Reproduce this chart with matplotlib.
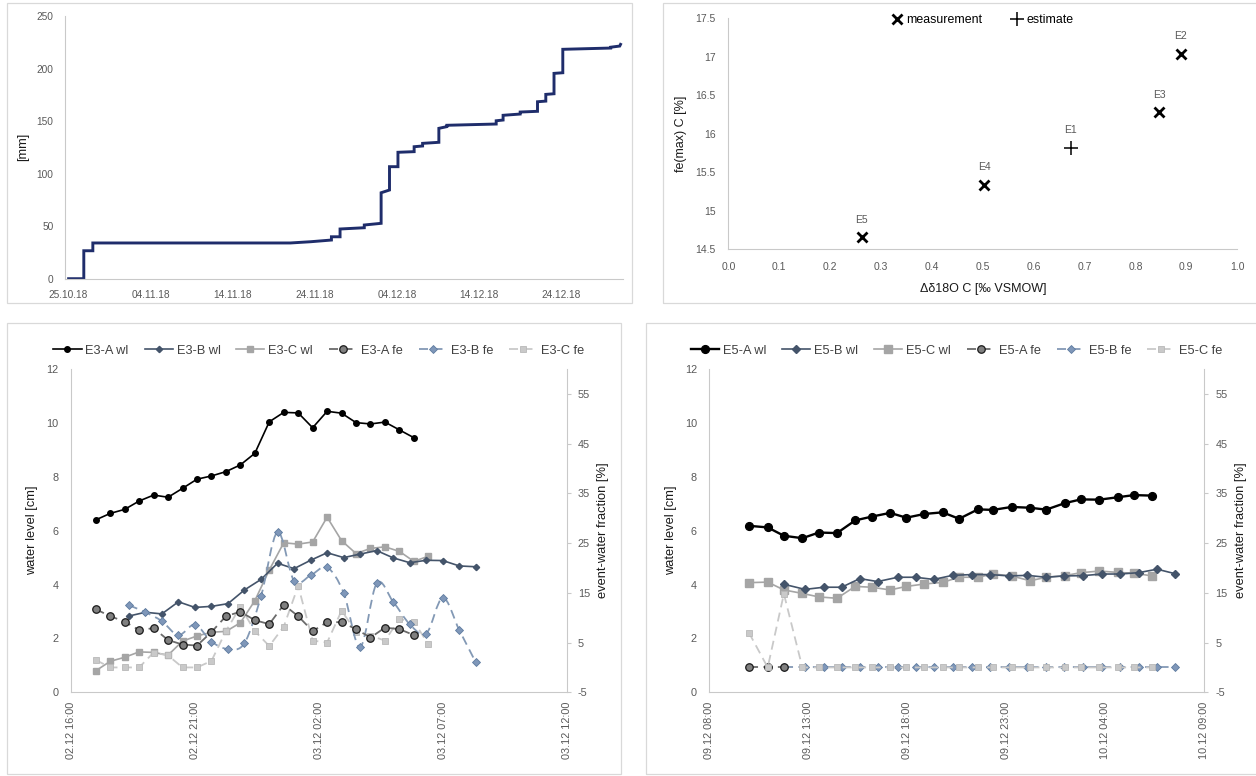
import numpy as np
import pandas as pd
import matplotlib
matplotlib.use('Agg')
import matplotlib.pyplot as plt
import matplotlib.dates as mdates
from matplotlib.lines import Line2D
from matplotlib.patches import Rectangle, PathPatch
from matplotlib.path import Path
from matplotlib.ticker import FuncFormatter, MultipleLocator

plt.rcParams['font.family'] = ['Liberation Sans', 'DejaVu Sans']
plt.rcParams['axes.unicode_minus'] = False

# ---------------- data ----------------
# cumulative precipitation (vertices of the step line), days after 25.10.18
rain_day = [0, 1.85, 1.85, 2.95, 2.95, 27.0, 29.5, 32.0, 32.0, 33.05, 33.05, 36.0, 36.0,
            38.05, 38.05, 39.07, 39.07, 40.1, 40.1, 42.07, 42.07, 43.1, 43.1, 45.08, 45.08,
            46.05, 46.05, 52.06, 52.06, 52.9, 52.9, 54.98, 54.98, 57.09, 57.09, 58.1, 58.1,
            59.1, 59.1, 60.17, 60.17, 66.0, 66.0, 67.1, 67.2]
rain_mm = [0, 0, 26.6, 26.6, 34.0, 34.0, 35.2, 36.8, 39.9, 39.9, 47.3, 48.5, 51.1,
           52.7, 81.8, 84.4, 106.6, 106.6, 120.3, 120.9, 125.6, 126.3, 128.8, 129.8, 143.1,
           144.7, 146.0, 147.2, 150.3, 151.0, 155.5, 156.7, 158.6, 159.3, 168.4, 169.0, 175.4,
           176.0, 195.4, 196.0, 218.3, 219.5, 220.3, 221.4, 223.0]

# fe(max) vs d18O
ev_names = ['E5', 'E4', 'E1', 'E3', 'E2']
ev_d18o = [0.262, 0.503, 0.673, 0.847, 0.889]
ev_femax = [14.66, 15.34, 15.82, 16.28, 17.04]
ev_estimate = [False, False, True, False, False]

# event E3
e3_t_ac = ['2018-12-02 17:00', '2018-12-02 17:35', '2018-12-02 18:10', '2018-12-02 18:45',
           '2018-12-02 19:20', '2018-12-02 19:55', '2018-12-02 20:30', '2018-12-02 21:05',
           '2018-12-02 21:40', '2018-12-02 22:15', '2018-12-02 22:50', '2018-12-02 23:25',
           '2018-12-03 00:00', '2018-12-03 00:35', '2018-12-03 01:10', '2018-12-03 01:45',
           '2018-12-03 02:20', '2018-12-03 02:55', '2018-12-03 03:30', '2018-12-03 04:05',
           '2018-12-03 04:40', '2018-12-03 05:15', '2018-12-03 05:50', '2018-12-03 06:25']
e3_t_b = ['2018-12-02 18:20', '2018-12-02 19:00', '2018-12-02 19:40', '2018-12-02 20:20',
          '2018-12-02 21:00', '2018-12-02 21:40', '2018-12-02 22:20', '2018-12-02 23:00',
          '2018-12-02 23:40', '2018-12-03 00:20', '2018-12-03 01:00', '2018-12-03 01:40',
          '2018-12-03 02:20', '2018-12-03 03:00', '2018-12-03 03:40', '2018-12-03 04:20',
          '2018-12-03 05:00', '2018-12-03 05:40', '2018-12-03 06:20', '2018-12-03 07:00',
          '2018-12-03 07:40', '2018-12-03 08:20']
e3_a_wl = [6.40, 6.64, 6.79, 7.10, 7.32, 7.24, 7.57, 7.91, 8.03, 8.19, 8.44, 8.87,
           10.04, 10.39, 10.37, 9.82, 10.43, 10.36, 10.01, 9.96, 10.03, 9.74, 9.45]
e3_b_wl = [2.83, 2.97, 2.91, 3.36, 3.15, 3.19, 3.29, 3.80, 4.19, 4.79, 4.59, 4.90,
           5.18, 5.00, 5.13, 5.26, 4.99, 4.81, 4.90, 4.89, 4.69, 4.66]
e3_c_wl = [0.80, 1.15, 1.30, 1.50, 1.48, 1.38, 1.90, 2.09, 2.23, 2.26, 2.58, 3.40,
           4.54, 5.55, 5.50, 5.58, 6.50, 5.63, 5.15, 5.34, 5.40, 5.23, 4.86, 5.05]
e3_a_fe = [11.7, 10.3, 9.2, 7.5, 7.9, 5.5, 4.6, 4.4, 7.1, 10.3, 11.2, 9.5,
           8.7, 12.6, 10.3, 7.3, 9.1, 9.1, 7.7, 6.0, 8.0, 7.7, 6.5]
e3_b_fe = [12.5, 11.1, 9.3, 6.5, 8.6, 5.2, 3.7, 4.9, 14.3, 27.2, 17.4, 18.5,
           20.1, 15.0, 4.1, 16.9, 13.2, 8.7, 6.8, 14.0, 7.5, 1.0]
e3_c_fe = [1.5, 0.0, 0.0, 0.0, 3.0, 2.4, 0.0, 0.0, 1.3, 7.3, 12.2, 7.3,
           4.3, 8.2, 16.4, 5.4, 5.0, 11.4, 7.2, 6.4, 5.4, 9.7, 9.2, 4.7]

# event E5
e5_t_ac = ['2018-12-09 10:00', '2018-12-09 10:57', '2018-12-09 11:46', '2018-12-09 12:42',
           '2018-12-09 13:32', '2018-12-09 14:27', '2018-12-09 15:22', '2018-12-09 16:12',
           '2018-12-09 17:08', '2018-12-09 17:57', '2018-12-09 18:52', '2018-12-09 19:47',
           '2018-12-09 20:37', '2018-12-09 21:34', '2018-12-09 22:20', '2018-12-09 23:16',
           '2018-12-10 00:12', '2018-12-10 01:01', '2018-12-10 01:57', '2018-12-10 02:46',
           '2018-12-10 03:42', '2018-12-10 04:38', '2018-12-10 05:27', '2018-12-10 06:22']
e5_t_b = ['2018-12-09 11:46', '2018-12-09 12:50', '2018-12-09 13:47', '2018-12-09 14:41',
          '2018-12-09 15:36', '2018-12-09 16:30', '2018-12-09 17:31', '2018-12-09 18:25',
          '2018-12-09 19:20', '2018-12-09 20:17', '2018-12-09 21:16', '2018-12-09 22:11',
          '2018-12-09 23:08', '2018-12-10 00:04', '2018-12-10 01:00', '2018-12-10 01:56',
          '2018-12-10 02:53', '2018-12-10 03:49', '2018-12-10 04:44', '2018-12-10 05:41',
          '2018-12-10 06:37', '2018-12-10 07:32']
e5_a_wl = [6.18, 6.12, 5.81, 5.72, 5.93, 5.91, 6.38, 6.52, 6.66, 6.48, 6.62, 6.68,
           6.44, 6.79, 6.77, 6.88, 6.85, 6.78, 7.02, 7.16, 7.15, 7.24, 7.32, 7.30]
e5_b_wl = [4.01, 3.82, 3.90, 3.90, 4.22, 4.11, 4.27, 4.27, 4.19, 4.34, 4.37, 4.37,
           4.32, 4.34, 4.27, 4.32, 4.33, 4.39, 4.39, 4.44, 4.57, 4.40]
e5_c_wl = [4.07, 4.09, 3.80, 3.67, 3.54, 3.49, 3.93, 3.90, 3.80, 3.93, 4.02, 4.08,
           4.27, 4.27, 4.39, 4.32, 4.14, 4.27, 4.33, 4.44, 4.50, 4.45, 4.42, 4.32]
e5_a_fe = [0.0, 0.0, 0.0]
e5_b_fe = [0.0, 0.0, 0.0, 0.0, 0.0, 0.0, 0.0, 0.0, 0.0, 0.0, 0.0, 0.0,
           0.0, 0.0, 0.0, 0.0, 0.0, 0.0, 0.0, 0.0, 0.0, 0.0]
e5_c_fe = [7.0, 0.0, 14.8, 0.0, 0.0, 0.0, 0.0, 0.0, 0.0, 0.0, 0.0, 0.0,
           0.0, 0.0, 0.0, 0.0, 0.0, 0.0, 0.0, 0.0, 0.0, 0.0, 0.0, 0.0]

# ---------------- style ----------------
W, H = 1256, 776
AXIS_GRAY = '#c9c9c9'
TICK_GRAY = '#595959'
LABEL_COL = '#1a1a1a'
BORDER = '#d9d9d9'


def fig_rect(x0, y0, x1, y1):
    return [x0 / W, 1 - y1 / H, (x1 - x0) / W, (y1 - y0) / H]


def excel_axes(ax, size=7.8):
    for s in ['top', 'right']:
        ax.spines[s].set_visible(False)
    for s in ['left', 'bottom']:
        ax.spines[s].set_color(AXIS_GRAY)
        ax.spines[s].set_linewidth(0.8)
    ax.tick_params(length=0, colors=TICK_GRAY, labelsize=size)


def smooth_path(x, y):
    # Catmull-Rom style bezier through the points (like a smoothed Excel line)
    p = np.column_stack([x, y])
    n = len(p)
    verts = [p[0]]
    codes = [Path.MOVETO]
    for i in range(n - 1):
        p0 = p[max(i - 1, 0)]
        p1 = p[i]
        p2 = p[i + 1]
        p3 = p[min(i + 2, n - 1)]
        c1 = p1 + (p2 - p0) / 6.0
        c2 = p2 - (p3 - p1) / 6.0
        verts += [c1, c2, p2]
        codes += [Path.CURVE4] * 3
    return Path(verts, codes)


fig = plt.figure(figsize=(W / 100, H / 100), dpi=100)

# panel frames
for (x0, y0, x1, y1) in [(7, 3, 632, 303), (663, 3, 1262, 303),
                         (7, 323, 621, 774), (646, 323, 1262, 774)]:
    fig.add_artist(Rectangle((x0 / W, 1 - y1 / H), (x1 - x0) / W, (y1 - y0) / H,
                             transform=fig.transFigure, fill=False, ec=BORDER, lw=0.9))

# ---------------- top left: cumulative precipitation ----------------
ax1 = fig.add_axes(fig_rect(64.5, 16, 623, 278.7))
excel_axes(ax1, 7.3)
t0 = pd.Timestamp('2018-10-25')
rain_t = [t0 + pd.Timedelta(days=d) for d in rain_day]
ax1.plot(rain_t, rain_mm, color='#1f2d6b', lw=2.1, solid_joinstyle='miter')
ax1.set_ylim(0, 250)
ax1.yaxis.set_major_locator(MultipleLocator(50))
ax1.set_xlim(pd.Timestamp('2018-10-24 12:00'), pd.Timestamp('2018-12-31 12:00'))
ax1.set_xticks(pd.date_range('2018-10-25', '2018-12-24', freq='10D'))
ax1.xaxis.set_major_formatter(mdates.DateFormatter('%d.%m.%y'))
ax1.tick_params(axis='y', pad=8)
ax1.tick_params(axis='x', pad=8)
ax1.set_ylabel('[mm]', fontsize=9.2, color=LABEL_COL)
ax1.yaxis.set_label_coords(-0.063, 0.5)

# ---------------- top right: fe(max) vs d18O ----------------
ax2 = fig.add_axes(fig_rect(728.4, 18.3, 1237.2, 249.3))
excel_axes(ax2, 7.5)
for name, xv, yv, est in zip(ev_names, ev_d18o, ev_femax, ev_estimate):
    if est:
        ax2.plot(xv, yv, marker='+', ms=10, mew=1.1, color='black', ls='none')
    else:
        ax2.plot(xv, yv, marker='x', ms=7.5, mew=2.0, color='black', ls='none')
    ax2.annotate(name, (xv, yv), xytext=(0, 12.5), textcoords='offset points',
                 ha='center', va='center', fontsize=7.5, color=TICK_GRAY)
ax2.set_xlim(0, 1.0)
ax2.set_ylim(14.5, 17.5)
ax2.xaxis.set_major_locator(MultipleLocator(0.1))
ax2.yaxis.set_major_locator(MultipleLocator(0.5))
ax2.xaxis.set_major_formatter(FuncFormatter(lambda v, p: '%.1f' % v))
ax2.yaxis.set_major_formatter(FuncFormatter(lambda v, p: '%g' % v))
ax2.tick_params(axis='both', pad=9)
ax2.set_ylabel('fe(max) C [%]', fontsize=9, color=LABEL_COL)
ax2.yaxis.set_label_coords(-0.081, 0.5)
ax2.set_xlabel('\u0394\u03b418O C [\u2030 VSMOW]', fontsize=9, color=LABEL_COL)
ax2.xaxis.set_label_coords(0.5, -0.145)
leg_h = [Line2D([], [], marker='x', ms=7.5, mew=2.0, color='black', ls='none'),
         Line2D([], [], marker='+', ms=10, mew=1.1, color='black', ls='none')]
ax2.legend(leg_h, ['measurement', 'estimate'], loc='center', bbox_to_anchor=(0.5, 0.993),
           ncol=2, frameon=False, fontsize=8.9, handlelength=0.8, handletextpad=0.35,
           columnspacing=2.4, borderaxespad=0)


# ---------------- bottom panels ----------------
def event_panel(rect, tag, t_ac, t_b, a_wl, b_wl, c_wl, a_fe, b_fe, c_fe,
                xlim, big, smooth_b):
    ax = fig.add_axes(rect)
    excel_axes(ax, 7.8)
    axr = ax.twinx()
    for s in ['top', 'left', 'bottom']:
        axr.spines[s].set_visible(False)
    axr.spines['right'].set_color(AXIS_GRAY)
    axr.spines['right'].set_linewidth(0.8)
    axr.tick_params(axis='y', length=3, width=0.8, color=AXIS_GRAY, colors=TICK_GRAY,
                    labelsize=7.8, pad=5)
    axr.tick_params(axis='y', color=AXIS_GRAY)

    ta = pd.to_datetime(t_ac)
    tb = pd.to_datetime(t_b)

    if big:
        a_ms, a_lw, c_ms, b_ms = 5.6, 1.7, 5.4, 3.6
    else:
        a_ms, a_lw, c_ms, b_ms = 4.0, 1.2, 4.4, 3.2

    dash = (5, 3)
    sty = {
        'A wl': dict(color='black', lw=a_lw, marker='o', ms=a_ms, mfc='black', mec='black'),
        'B wl': dict(color='#44546a', lw=1.2, marker='D', ms=b_ms, mfc='#44546a', mec='#44546a'),
        'C wl': dict(color='#a5a5a5', lw=1.2, marker='s', ms=c_ms, mfc='#a5a5a5', mec='#a5a5a5'),
        'A fe': dict(color='#6b6b6b', lw=1.3, ls=(0, dash), marker='o', ms=5.4,
                     mfc='#808080', mec='#1a1a1a', mew=0.9),
        'B fe': dict(color='#8399b5', lw=1.3, ls=(0, dash), marker='D', ms=3.7,
                     mfc='#7f97b9', mec='#5e7ba0', mew=0.6),
        'C fe': dict(color='#c9c9c9', lw=1.3, ls=(0, dash), marker='s', ms=4.9,
                     mfc='#c9c9c9', mec='#b8b8b8', mew=0.6),
    }

    ax.plot(ta[:len(a_wl)], a_wl, **sty['A wl'], zorder=5)
    ax.plot(tb[:len(b_wl)], b_wl, **sty['B wl'], zorder=4)
    ax.plot(ta[:len(c_wl)], c_wl, **sty['C wl'], zorder=3)

    # in E5 the C fe squares lie on top of the A fe circles
    c_z = 5 if big else 2
    axr.plot(ta[:len(a_fe)], a_fe, **sty['A fe'], zorder=4)
    if smooth_b:
        xb = mdates.date2num(tb[:len(b_fe)].to_pydatetime())
        patch = PathPatch(smooth_path(xb, b_fe), fill=False, ec=sty['B fe']['color'],
                          lw=1.3, ls=(0, dash), zorder=3)
        axr.add_patch(patch)
        bs = dict(sty['B fe'])
        bs['ls'] = 'none'
        axr.plot(tb[:len(b_fe)], b_fe, **bs, zorder=3)
    else:
        axr.plot(tb[:len(b_fe)], b_fe, **sty['B fe'], zorder=3)
    axr.plot(ta[:len(c_fe)], c_fe, **sty['C fe'], zorder=c_z)

    ax.set_ylim(0, 12)
    ax.yaxis.set_major_locator(MultipleLocator(2))
    axr.set_ylim(-5, 60)
    axr.set_yticks(np.arange(-5, 56, 10))
    ax.set_xlim(pd.Timestamp(xlim[0]), pd.Timestamp(xlim[1]))
    ax.set_xticks(pd.date_range(xlim[0], xlim[1], freq='5h'))
    ax.xaxis.set_major_formatter(mdates.DateFormatter('%d.%m %H:%M'))
    ax.tick_params(axis='x', labelrotation=90, pad=7)
    ax.tick_params(axis='y', pad=9)

    ax.set_ylabel('water level [cm]', fontsize=9.3, color=LABEL_COL)
    axr.set_ylabel('event-water fraction [%]', fontsize=9.3, color=LABEL_COL,
                   rotation=90, va='center')
    ax.yaxis.set_label_coords(-0.066, 0.5)
    axr.yaxis.set_label_coords(1.074, 0.5)

    handles = [Line2D([], [], **sty[k]) for k in ['A wl', 'B wl', 'C wl', 'A fe', 'B fe', 'C fe']]
    labels = [f'{tag}-{k}' for k in ['A wl', 'B wl', 'C wl', 'A fe', 'B fe', 'C fe']]
    axr.legend(handles, labels, loc='center', bbox_to_anchor=(0.5, 1.056), ncol=6,
               frameon=False, fontsize=9.2, handlelength=2.2, handletextpad=0.3,
               columnspacing=1.25, borderaxespad=0, labelcolor='#404040')
    return ax, axr


event_panel(fig_rect(71, 369, 566.7, 692.3), 'E3', e3_t_ac, e3_t_b,
            e3_a_wl, e3_b_wl, e3_c_wl, e3_a_fe, e3_b_fe, e3_c_fe,
            ('2018-12-02 16:00', '2018-12-03 12:00'), False, True)
event_panel(fig_rect(709.3, 369, 1204.3, 692.3), 'E5', e5_t_ac, e5_t_b,
            e5_a_wl, e5_b_wl, e5_c_wl, e5_a_fe, e5_b_fe, e5_c_fe,
            ('2018-12-09 08:00', '2018-12-10 09:00'), True, False)

fig.savefig('out.png', dpi=100)
